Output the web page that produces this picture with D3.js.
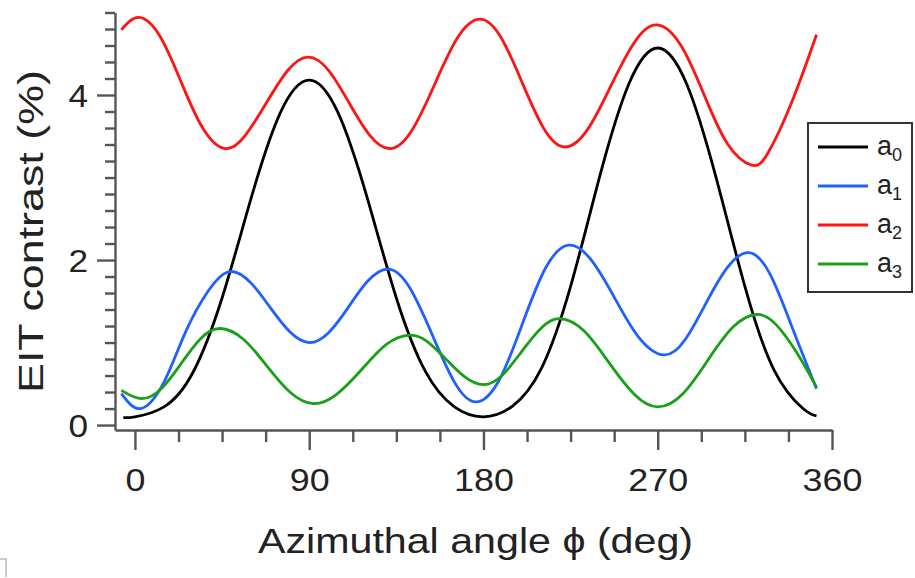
<!DOCTYPE html>
<html>
<head>
<meta charset="utf-8">
<script src="https://cdn.jsdelivr.net/npm/d3@7"></script>
<style>
  body { margin: 0; background: #fff; }
  svg { display: block; font-family: "Liberation Sans", Arial, sans-serif; }
</style>
</head>
<body>
<svg id="chart" width="915" height="578"></svg>
<script>
// values
const a0Angles = [-6, 0, 15, 30, 45, 60, 75, 90, 105, 120, 135, 150, 165, 180, 195, 210, 225, 240, 255, 270, 285, 300, 315, 330, 345, 352];
const a0Values = [0.09, 0.10, 0.22, 0.64, 1.54, 2.75, 3.78, 4.18, 3.78, 2.75, 1.54, 0.65, 0.22, 0.10, 0.23, 0.69, 1.68, 3.01, 4.13, 4.57, 4.13, 3.01, 1.68, 0.67, 0.20, 0.11];

const a1Angles = [-7, 3, 15, 26, 38, 49, 60, 70, 80, 90, 100, 110, 120, 131, 142, 154, 165, 176, 188, 200, 212, 224, 236, 248, 260, 273, 284, 295, 306, 317, 328, 340, 352];
const a1Values = [0.38, 0.20, 0.52, 1.12, 1.63, 1.86, 1.72, 1.42, 1.13, 1.00, 1.12, 1.42, 1.74, 1.89, 1.66, 1.07, 0.52, 0.28, 0.54, 1.22, 1.90, 2.18, 1.99, 1.53, 1.07, 0.85, 1.03, 1.48, 1.91, 2.09, 1.83, 1.15, 0.44];

const a2Angles = [-7, 2, 13, 24, 35, 46.5, 57, 68, 79, 89.5, 100, 110.5, 121, 131.7, 143, 155, 166.5, 178, 189, 200, 211, 222, 234, 246, 258, 269.5, 282, 294, 306, 318.5, 327, 339, 352];
const a2Values = [4.79, 4.94, 4.71, 4.15, 3.60, 3.35, 3.51, 3.91, 4.30, 4.46, 4.30, 3.91, 3.52, 3.35, 3.57, 4.14, 4.69, 4.92, 4.70, 4.15, 3.60, 3.37, 3.59, 4.12, 4.64, 4.85, 4.60, 4.00, 3.41, 3.15, 3.30, 3.90, 4.73];

const a3Angles = [-7, 3.5, 14, 24, 34, 44, 56, 68, 80, 92, 104, 117, 130, 142, 151, 161, 170, 180, 190, 200, 210, 219.5, 232, 245, 258, 270, 283, 296, 309, 321, 331, 342, 352];
const a3Values = [0.42, 0.32, 0.45, 0.75, 1.05, 1.17, 1.04, 0.72, 0.40, 0.26, 0.37, 0.67, 0.98, 1.09, 1.01, 0.79, 0.59, 0.49, 0.61, 0.90, 1.18, 1.29, 1.14, 0.75, 0.37, 0.22, 0.38, 0.79, 1.19, 1.34, 1.22, 0.87, 0.46];

const seriesSubscripts = ["0", "1", "2", "3"];
const seriesColors = ["#000000", "#2060ff", "#ff1414", "#18a018"];

const xMajorTicks = [0, 90, 180, 270, 360];
const xMinorTicks = [22.5, 45, 67.5, 112.5, 135, 157.5, 202.5, 225, 247.5, 292.5, 315, 337.5];
const yMajorTicks = [0, 2, 4];
const yMinorTicks = d3.range(0, 26).map(i => +(i * 0.2).toFixed(1)).filter(v => v % 2 !== 0);

const series = [
    { sub: seriesSubscripts[0], color: seriesColors[0], pts: a0Angles.map((a, i) => [a, a0Values[i]]) },
    { sub: seriesSubscripts[1], color: seriesColors[1], pts: a1Angles.map((a, i) => [a, a1Values[i]]) },
    { sub: seriesSubscripts[2], color: seriesColors[2], pts: a2Angles.map((a, i) => [a, a2Values[i]]) },
    { sub: seriesSubscripts[3], color: seriesColors[3], pts: a3Angles.map((a, i) => [a, a3Values[i]]) }
];

const svg = d3.select("#chart");
const axisColor = "#555";

const x = d3.scaleLinear().domain([-10.3, 360]).range([115, 832]);
const y = d3.scaleLinear().domain([-0.06, 5]).range([430, 12.5]);

// curves
const line = d3.line()
    .x(d => x(d[0]))
    .y(d => y(d[1]))
    .curve(d3.curveNatural);

svg.append("g")
    .attr("fill", "none")
    .attr("stroke-width", 2.8)
    .attr("stroke-linejoin", "round")
    .selectAll("path")
    .data(series)
    .join("path")
    .attr("stroke", d => d.color)
    .attr("d", d => line(d.pts));

// x axis
const xAxis = svg.append("g")
    .attr("transform", `translate(0,${y.range()[0]})`)
    .call(d3.axisBottom(x).tickValues(xMajorTicks).tickSize(20).tickSizeOuter(0).tickPadding(18));
svg.append("g")
    .attr("transform", `translate(0,${y.range()[0]})`)
    .call(d3.axisBottom(x).tickValues(xMinorTicks).tickSize(12).tickFormat(""))
    .call(g => g.select(".domain").remove());

// y axis
const yAxis = svg.append("g")
    .attr("transform", `translate(${x.range()[0]},0)`)
    .call(d3.axisLeft(y).tickValues(yMajorTicks).tickFormat(d3.format("d"))
        .tickSize(18).tickSizeOuter(0).tickPadding(9));
svg.append("g")
    .attr("transform", `translate(${x.range()[0]},0)`)
    .call(d3.axisLeft(y).tickValues(yMinorTicks).tickSize(10).tickFormat(""))
    .call(g => g.select(".domain").remove());

svg.selectAll(".domain, .tick line")
    .attr("stroke", axisColor)
    .attr("stroke-width", 2.4);

xAxis.selectAll(".tick text")
    .attr("font-size", 32)
    .attr("font-family", "Liberation Sans, Arial, sans-serif")
    .attr("fill", "#222")
    .attr("transform", "scale(1.12,1)");

yAxis.selectAll(".tick text")
    .attr("font-size", 32)
    .attr("font-family", "Liberation Sans, Arial, sans-serif")
    .attr("fill", "#222")
    .attr("x", -27 / 1.1)
    .attr("dy", "0.36em")
    .attr("transform", "scale(1.1,1)");

// axis titles
svg.append("text")
    .attr("x", 258)
    .attr("y", 553)
    .attr("font-size", 35)
    .attr("fill", "#222")
    .attr("textLength", 435)
    .attr("lengthAdjust", "spacingAndGlyphs")
    .text("Azimuthal angle ϕ (deg)");

svg.append("text")
    .attr("transform", "translate(43,393) rotate(-90)")
    .attr("font-size", 35)
    .attr("fill", "#222")
    .attr("textLength", 323)
    .attr("lengthAdjust", "spacingAndGlyphs")
    .text("EIT contrast (%)");

// legend
const legend = svg.append("g");
legend.append("rect")
    .attr("x", 808).attr("y", 123)
    .attr("width", 104).attr("height", 169)
    .attr("fill", "#fff")
    .attr("stroke", "#333")
    .attr("stroke-width", 2);

const legendRows = legend.selectAll("g.row")
    .data(series)
    .join("g")
    .attr("class", "row")
    .attr("transform", (d, i) => `translate(0,${147 + i * 39})`);

legendRows.append("line")
    .attr("x1", 818).attr("x2", 868)
    .attr("stroke", d => d.color)
    .attr("stroke-width", 2.8);

const legendText = legendRows.append("text")
    .attr("x", 877)
    .attr("y", 8)
    .attr("font-size", 27)
    .attr("fill", "#222");
legendText.append("tspan").text("a");
legendText.append("tspan")
    .attr("font-size", 18)
    .attr("dy", 6)
    .text(d => d.sub);

// little grey mark in the bottom-left corner of the scan
svg.append("path")
    .attr("d", "M0,559 H6 V577")
    .attr("fill", "none")
    .attr("stroke", "#bbb")
    .attr("stroke-width", 1.5);
</script>
</body>
</html>
